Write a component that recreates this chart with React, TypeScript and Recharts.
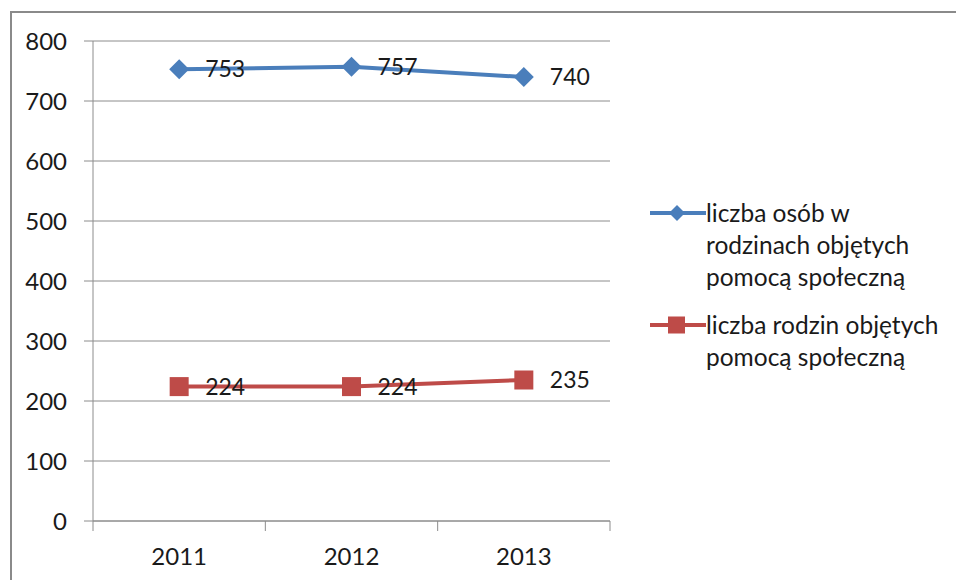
import { ComposedChart, Line, XAxis, YAxis, CartesianGrid, LabelList } from "recharts";

const years = ["2011", "2012", "2013"];
const osoby = [753, 757, 740];
const rodziny = [224, 224, 235];
const yTicks = [0, 100, 200, 300, 400, 500, 600, 700, 800];

const seriesNames = {
  osoby: ["liczba osób w", "rodzinach objętych", "pomocą społeczną"],
  rodziny: ["liczba rodzin objętych", "pomocą społeczną"],
};

const BLUE = "#4A7EBB";
const RED = "#BE4B48";
const GRID = "#8c8c8c";
const FONT = "Lato, 'Open Sans', sans-serif";

const W = 956;
const H = 580;
const MARGIN = { top: 41, right: 346, bottom: 0, left: 0 };
const Y_W = 93;
const X_H = 59;
const PLOT_W = W - Y_W - MARGIN.right;

const data = years.map((year, i) => ({ year, osoby: osoby[i], rodziny: rodziny[i] }));

const Diamond = (props: any) => {
  const { cx, cy } = props;
  if (cx == null || cy == null) return null;
  const r = 10;
  return <polygon points={`${cx},${cy - r} ${cx + r},${cy} ${cx},${cy + r} ${cx - r},${cy}`} fill={BLUE} />;
};

const Square = (props: any) => {
  const { cx, cy } = props;
  if (cx == null || cy == null) return null;
  return <rect x={cx - 9.5} y={cy - 9.5} width={19} height={19} fill={RED} />;
};

const XTick = (props: any) => {
  const { x, y, payload, index } = props;
  const band = PLOT_W / years.length;
  return (
    <g>
      <line x1={x - band / 2} x2={x - band / 2} y1={y} y2={y + 10} stroke={GRID} />
      {index === years.length - 1 && (
        <line x1={x + band / 2} x2={x + band / 2} y1={y} y2={y + 10} stroke={GRID} />
      )}
      <text x={x} y={y + 34} textAnchor="middle" dominantBaseline="central" fontSize={24} fontFamily={FONT} fill="#1a1a1a">
        {payload.value}
      </text>
    </g>
  );
};

const LegendBox = () => (
  <div style={{ fontFamily: FONT, fontSize: 24.5, color: "#1a1a1a", lineHeight: "32px" }}>
    <div style={{ display: "flex", alignItems: "flex-start" }}>
      <svg width={58} height={32} style={{ flexShrink: 0 }}>
        <line x1={2} x2={58} y1={16} y2={16} stroke={BLUE} strokeWidth={4} />
        <polygon points="29,8 37,16 29,24 21,16" fill={BLUE} />
      </svg>
      <div>
        {seriesNames.osoby.map((t) => (
          <div key={t}>{t}</div>
        ))}
      </div>
    </div>
    <div style={{ display: "flex", alignItems: "flex-start", marginTop: 16 }}>
      <svg width={58} height={32} style={{ flexShrink: 0 }}>
        <line x1={2} x2={58} y1={16} y2={16} stroke={RED} strokeWidth={4} />
        <rect x={20} y={7.5} width={17} height={17} fill={RED} />
      </svg>
      <div>
        {seriesNames.rodziny.map((t) => (
          <div key={t}>{t}</div>
        ))}
      </div>
    </div>
  </div>
);

export default function App() {
  return (
    <div style={{ position: "absolute", left: 0, top: 0, width: W, height: H, overflow: "hidden", background: "#fff" }}>
      <div
        style={{
          position: "absolute",
          left: 10,
          top: 11,
          width: 1000,
          height: 1000,
          border: "2px solid #8a8a8a",
          boxSizing: "border-box",
        }}
      />
      <div style={{ position: "absolute", left: 0, top: 0 }}>
        <ComposedChart width={W} height={H} data={data} margin={MARGIN}>
          <CartesianGrid vertical={false} stroke={GRID} strokeWidth={1} />
          <XAxis
            dataKey="year"
            scale="band"
            height={X_H}
            axisLine={{ stroke: GRID }}
            tickLine={false}
            tickSize={0}
            tickMargin={0}
            tick={<XTick />}
            interval={0}
          />
          <YAxis
            width={Y_W}
            domain={[0, 800]}
            ticks={yTicks}
            interval={0}
            axisLine={{ stroke: GRID }}
            tickLine={{ stroke: GRID }}
            tickSize={9}
            tickMargin={17}
            tick={{ fontSize: 24, fontFamily: FONT, fill: "#1a1a1a" }}
          />
          <Line
            dataKey="osoby"
            stroke={BLUE}
            strokeWidth={4}
            dot={<Diamond />}
            activeDot={false}
            isAnimationActive={false}
          >
            <LabelList dataKey="osoby" position="right" offset={26} fontSize={23} fontFamily={FONT} fill="#1a1a1a" />
          </Line>
          <Line
            dataKey="rodziny"
            stroke={RED}
            strokeWidth={4}
            dot={<Square />}
            activeDot={false}
            isAnimationActive={false}
          >
            <LabelList dataKey="rodziny" position="right" offset={26} fontSize={23} fontFamily={FONT} fill="#1a1a1a" />
          </Line>
        </ComposedChart>
      </div>
      <div style={{ position: "absolute", left: 648, top: 197, width: 310 }}>
        <LegendBox />
      </div>
    </div>
  );
}
